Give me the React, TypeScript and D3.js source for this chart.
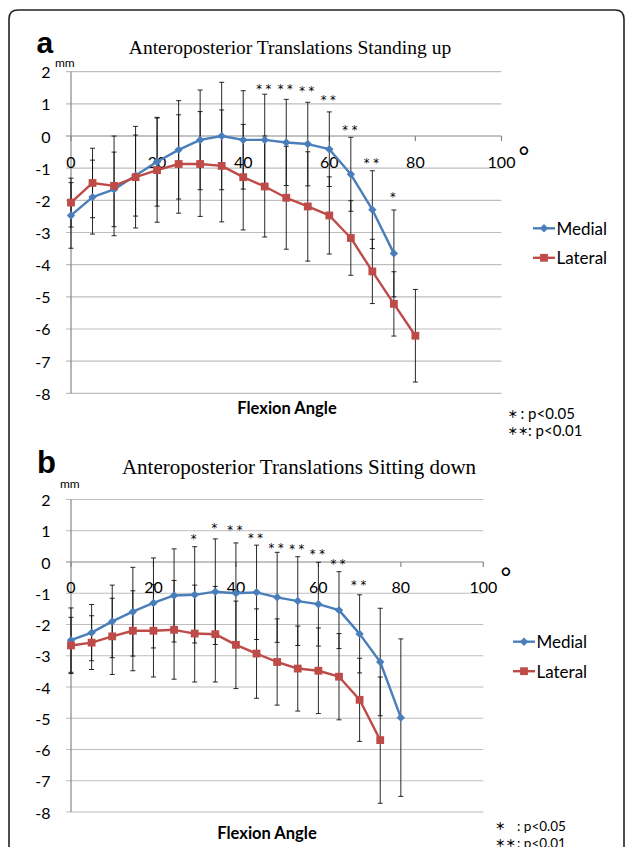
import React from "react";
import * as d3 from "d3";

// ---------- DATA ----------
const angles = [0, 5, 10, 15, 20, 25, 30, 35, 40, 45, 50, 55, 60, 65, 70, 75, 80];
const xTicks = [0, 20, 40, 60, 80, 100];
const yTicks = [2, 1, 0, -1, -2, -3, -4, -5, -6, -7, -8];
const seriesNames = ["Medial", "Lateral"];

// (a) Standing up
const standingMedial = [-2.47, -1.9, -1.66, -1.23, -0.8, -0.43, -0.12, 0.0, -0.12, -0.12, -0.2, -0.25, -0.41, -1.19, -2.29, -3.65];
const standingMedialSD = [1.02, 1.15, 1.16, 1.26, 1.38, 1.53, 1.55, 1.67, 1.53, 1.42, 1.34, 1.3, 1.16, 1.15, 1.21, 1.35];
const standingLateral = [-2.07, -1.46, -1.55, -1.28, -1.06, -0.87, -0.87, -0.93, -1.28, -1.57, -1.92, -2.19, -2.47, -3.17, -4.21, -5.22, -6.21];
const standingLateralSD = [0.76, 1.08, 1.55, 1.58, 1.62, 1.53, 1.63, 1.74, 1.64, 1.57, 1.6, 1.7, 1.2, 1.16, 1.0, 1.0, 1.44];
const standingStarAngles = [45, 50, 55, 60, 65, 70, 75];
const standingStarLabels = ["* *", "* *", "* *", "* *", "* *", "* *", "*"];
const standingStarLevels = [1.55, 1.55, 1.5, 1.22, 0.26, -0.75, -1.8];

// (b) Sitting down
const sittingMedial = [-2.5, -2.26, -1.9, -1.59, -1.31, -1.07, -1.05, -0.95, -1.0, -0.97, -1.13, -1.25, -1.35, -1.54, -2.3, -3.2, -4.98];
const sittingMedialSD = [1.03, 0.9, 1.16, 1.42, 1.44, 1.49, 1.54, 1.69, 1.61, 1.51, 1.44, 1.42, 1.34, 1.23, 1.25, 1.72, 2.52];
const sittingLateral = [-2.67, -2.58, -2.38, -2.2, -2.2, -2.17, -2.29, -2.31, -2.65, -2.93, -3.2, -3.41, -3.48, -3.67, -4.41, -5.7];
const sittingLateralSD = [0.9, 0.86, 1.22, 1.28, 1.48, 1.58, 1.55, 1.53, 1.4, 1.43, 1.38, 1.36, 1.37, 1.38, 1.33, 2.02];
const sittingStarAngles = [30, 35, 40, 45, 50, 55, 60, 65, 70];
const sittingStarLabels = ["*", "*", "* *", "* *", "* *", "* *", "* *", "* *", "* *"];
const sittingStarLevels = [0.84, 1.19, 1.12, 0.86, 0.54, 0.52, 0.34, 0.01, -0.65];

const pLegendStars = ["＊", "＊＊"];
const pLegendTexts = [": p<0.05", ": p<0.01"];

// ---------- STYLE ----------
const BLUE = "#4A7EBB";
const RED = "#BE4B48";
const GRID = "#BEBEBE";
const AXIS = "#868686";
const SANS = "Lato, 'Open Sans', sans-serif";
const SERIF = "'Liberation Serif', 'Times New Roman', serif";

type Cfg = {
  x0: number; x1: number; yTop: number; yBot: number;
  letter: string; letterX: number; letterY: number; letterSize: number;
  title: string; titleX: number; titleY: number; titleSize: number;
  mmX: number; mmY: number;
  xLabOff: number; degX: number; degY: number;
  legX: number; legY: number;
  flexX: number; flexY: number;
  pX: number; pY: number; pGap: number; pSize: number; pColon: number[];
};

function diamond(cx: number, cy: number, r: number) {
  return `M${cx},${cy - r}L${cx + r},${cy}L${cx},${cy + r}L${cx - r},${cy}Z`;
}

function Panel(props: {
  cfg: Cfg; medial: number[]; medialSD: number[]; lateral: number[]; lateralSD: number[];
  starAngles: number[]; starLabels: string[]; starLevels: number[];
}) {
  const { cfg, medial, medialSD, lateral, lateralSD, starAngles, starLabels, starLevels } = props;
  const x = d3.scaleLinear().domain([0, 100]).range([cfg.x0, cfg.x1]);
  const y = d3.scaleLinear().domain([-8, 2]).range([cfg.yBot, cfg.yTop]);
  const line = d3.line<number>().x((_, i) => x(angles[i])).y((d) => y(d));
  const cap = 2.5;

  const errBars = (vals: number[], sds: number[], key: string) =>
    vals.map((v, i) => {
      const cx = x(angles[i]);
      const t = y(v + sds[i]);
      const b = y(v - sds[i]);
      return (
        <g key={key + i} stroke="#111" strokeWidth={0.9}>
          <line x1={cx} x2={cx} y1={t} y2={b} />
          <line x1={cx - cap} x2={cx + cap} y1={t} y2={t} />
          <line x1={cx - cap} x2={cx + cap} y1={b} y2={b} />
        </g>
      );
    });

  return (
    <g>
      {/* letter & title */}
      <text x={cfg.letterX} y={cfg.letterY} fontFamily="'Liberation Sans', Arial, sans-serif" fontWeight="bold" fontSize={cfg.letterSize} fill="#000">{cfg.letter}</text>
      <text x={cfg.titleX} y={cfg.titleY} textAnchor="middle" fontFamily={SERIF} fontSize={cfg.titleSize} fill="#000">{cfg.title}</text>
      <text x={cfg.mmX} y={cfg.mmY} fontFamily={SANS} fontSize={12} fill="#000">mm</text>

      {/* gridlines + y ticks */}
      {yTicks.map((t) => (
        <line key={"g" + t} x1={cfg.x0 - 5} x2={cfg.x1} y1={y(t)} y2={y(t)} stroke={t === 0 ? AXIS : GRID} strokeWidth={1.2} />
      ))}
      <line x1={cfg.x0} x2={cfg.x0} y1={y(2)} y2={y(-8)} stroke={AXIS} strokeWidth={1.2} />
      {xTicks.map((t) => (
        <line key={"xt" + t} x1={x(t)} x2={x(t)} y1={y(0)} y2={y(0) + 5} stroke={AXIS} strokeWidth={1.2} />
      ))}
      {yTicks.map((t) => (
        <text key={"yl" + t} x={cfg.x0 - 20.5} y={y(t)} textAnchor="end" dominantBaseline="central" fontFamily={SANS} fontSize={16} fill="#000">{t}</text>
      ))}
      {xTicks.map((t) => (
        <text key={"xl" + t} x={x(t)} y={y(0) + cfg.xLabOff} textAnchor="middle" dominantBaseline="central" fontFamily={SANS} fontSize={16} fill="#000">{t}</text>
      ))}
      <text x={cfg.degX} y={cfg.degY + 14.5} textAnchor="middle" fontFamily={SANS} fontSize={26} fill="#000">°</text>

      {/* error bars */}
      {errBars(medial, medialSD, "em")}
      {errBars(lateral, lateralSD, "el")}

      {/* lines */}
      <path d={line(medial) || ""} fill="none" stroke={BLUE} strokeWidth={2.4} strokeLinejoin="round" />
      {medial.map((v, i) => (
        <path key={"dm" + i} d={diamond(x(angles[i]), y(v), 4.2)} fill={BLUE} />
      ))}
      <path d={line(lateral) || ""} fill="none" stroke={RED} strokeWidth={2.4} strokeLinejoin="round" />
      {lateral.map((v, i) => (
        <rect key={"sl" + i} x={x(angles[i]) - 3.9} y={y(v) - 3.9} width={7.8} height={7.8} fill={RED} />
      ))}

      {/* significance stars */}
      {starAngles.map((a, i) => (
        <text key={"st" + i} x={x(a) - 1} y={y(starLevels[i]) + 6.8} textAnchor="middle" fontFamily="'DejaVu Sans', sans-serif" fontSize={11.5} fill="#000" style={{ whiteSpace: "pre" }}>{starLabels[i]}</text>
      ))}

      {/* legend */}
      {seriesNames.map((n, i) => {
        const ly = cfg.legY + i * 29.5;
        const col = i === 0 ? BLUE : RED;
        const mx = cfg.legX + 11;
        return (
          <g key={"lg" + n}>
            <line x1={cfg.legX} x2={cfg.legX + 22} y1={ly} y2={ly} stroke={col} strokeWidth={2.4} />
            {i === 0 ? (
              <path d={diamond(mx, ly, 4.2)} fill={col} />
            ) : (
              <rect x={mx - 3.9} y={ly - 3.9} width={7.8} height={7.8} fill={col} />
            )}
            <text x={cfg.legX + 23.5} y={ly} dominantBaseline="central" fontFamily={SANS} fontSize={17} fill="#000">{n}</text>
          </g>
        );
      })}

      {/* axis title */}
      <text x={cfg.flexX} y={cfg.flexY} textAnchor="middle" dominantBaseline="central" fontFamily={SANS} fontWeight="bold" fontSize={16.5} fill="#000">Flexion Angle</text>

      {/* p-value legend */}
      {pLegendTexts.map((t, i) => (
        <g key={"pl" + i}>
          <text x={cfg.pX} y={cfg.pY + i * cfg.pGap} dominantBaseline="central" fontFamily="'Noto Sans CJK JP', sans-serif" fontWeight="bold" fontSize={10.5} fill="#000">{pLegendStars[i]}</text>
          <text x={cfg.pX + cfg.pColon[i]} y={cfg.pY + i * cfg.pGap} dominantBaseline="central" fontFamily={SANS} fontSize={cfg.pSize} fill="#000">{t}</text>
        </g>
      ))}
    </g>
  );
}

const cfgA: Cfg = {
  x0: 71, x1: 501.5, yTop: 71.7, yBot: 393.3,
  letter: "a", letterX: 36.5, letterY: 52.5, letterSize: 30,
  title: "Anteroposterior Translations Standing up", titleX: 290, titleY: 54, titleSize: 19.5,
  mmX: 55, mmY: 66.5,
  xLabOff: 25, degX: 524, degY: 151.7,
  legX: 533, legY: 228.3,
  flexX: 287, flexY: 407.5,
  pX: 507.5, pY: 413.3, pGap: 17, pSize: 15, pColon: [13, 20.5],
};

const cfgB: Cfg = {
  x0: 71, x1: 483.3, yTop: 499.5, yBot: 812,
  letter: "b", letterX: 37, letterY: 472.5, letterSize: 31,
  title: "Anteroposterior Translations Sitting down", titleX: 299, titleY: 473.5, titleSize: 21,
  mmX: 60, mmY: 488,
  xLabOff: 24.7, degX: 506, degY: 572,
  legX: 513, legY: 641.7,
  flexX: 267, flexY: 833.3,
  pX: 495, pY: 825.7, pGap: 17, pSize: 13.5, pColon: [22, 22],
};

export default function App() {
  return (
    <div style={{ position: "absolute", left: 0, top: 0 }}>
      <svg width={627} height={847} style={{ display: "block", background: "#fff" }}>
        <rect x={0} y={0} width={627} height={847} fill="#fff" />
        <path d="M9,847 L9,19 Q9,10 18,10 L615,10 Q624,10 624,19 L624,847" fill="none" stroke="#222" strokeWidth={1.6} />
        <Panel cfg={cfgA} medial={standingMedial} medialSD={standingMedialSD} lateral={standingLateral} lateralSD={standingLateralSD}
          starAngles={standingStarAngles} starLabels={standingStarLabels} starLevels={standingStarLevels} />
        <Panel cfg={cfgB} medial={sittingMedial} medialSD={sittingMedialSD} lateral={sittingLateral} lateralSD={sittingLateralSD}
          starAngles={sittingStarAngles} starLabels={sittingStarLabels} starLevels={sittingStarLevels} />
      </svg>
    </div>
  );
}
